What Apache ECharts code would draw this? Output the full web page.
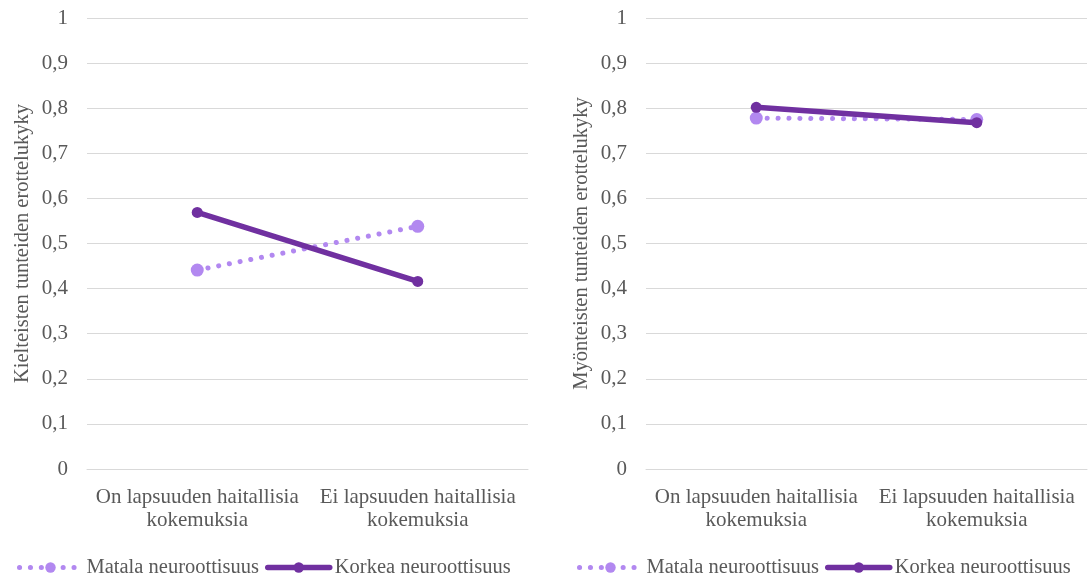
<!DOCTYPE html>
<html><head><meta charset="utf-8">
<script src="https://cdn.jsdelivr.net/npm/echarts@6/dist/echarts.min.js"></script>
<style>html,body{margin:0;padding:0;background:#fff}#c{width:1088px;height:578px}</style>
</head><body><div id="c"></div>
<script>
const categories = ['On lapsuuden haitallisia\nkokemuksia', 'Ei lapsuuden haitallisia\nkokemuksia'];
const seriesNames = ['Matala neuroottisuus', 'Korkea neuroottisuus'];
const leftMatala = [0.441, 0.538];
const leftKorkea = [0.569, 0.416];
const rightMatala = [0.778, 0.775];
const rightKorkea = [0.802, 0.768];
const yTitles = ['Kielteisten tunteiden erottelukyky', 'Myönteisten tunteiden erottelukyky'];

const FONT = '"Liberation Serif", "Times New Roman", serif';
const TXT = '#595959';
const C_LIGHT = '#b288f0';
const C_DARK = '#7030a0';
const DOTS = [0.1, 10.8];

const chart = echarts.init(document.getElementById('c'));
const grids = [{left: 87, right: 560, top: 18, bottom: 109}, {left: 646, right: 1, top: 18, bottom: 109}];
function xAxis(i){return {type:'category', gridIndex:i, data:categories, boundaryGap:true,
  axisLine:{show:true,lineStyle:{color:'#d9d9d9',width:1}}, axisTick:{show:false},
  axisLabel:{color:TXT,fontFamily:FONT,fontSize:21,lineHeight:23,margin:17,interval:0}};}
function yAxis(i){return {type:'value', gridIndex:i, min:0, max:1, interval:0.1,
  name:yTitles[i], nameLocation:'middle', nameGap:54, nameRotate:90,
  nameTextStyle:{color:TXT,fontFamily:FONT,fontSize:20.5},
  axisLine:{show:false}, axisTick:{show:false},
  splitLine:{lineStyle:{color:'#d9d9d9',width:1}},
  axisLabel:{color:TXT,fontFamily:FONT,fontSize:21,margin:19,
    formatter:v=>String(Math.round(v*10)/10).replace('.',',')}};}
function mk(name, data, i, light){
  return {name, type:'line', xAxisIndex:i, yAxisIndex:i, data,
    symbol:'circle', symbolSize: light?13:11,
    itemStyle:{color: light?C_LIGHT:C_DARK},
    lineStyle:{color: light?C_LIGHT:C_DARK, width: light?5:5.5, type: light?DOTS:'solid', cap:'round'},
    z: light?2:3, animation:false};
}
function legend(left){return {left, top:552, itemWidth:62, itemHeight:13, itemGap:6,
  data:[
    {name:seriesNames[0], lineStyle:{color:C_LIGHT,width:5,type:DOTS,cap:'round'}, itemStyle:{color:C_LIGHT}},
    {name:seriesNames[1], lineStyle:{color:C_DARK,width:5.5,type:'solid',cap:'round'}, itemStyle:{color:C_DARK}}
  ],
  textStyle:{color:TXT,fontFamily:FONT,fontSize:20.5}};}
chart.setOption({
  animation:false,
  grid:grids,
  xAxis:[xAxis(0), xAxis(1)],
  yAxis:[yAxis(0), yAxis(1)],
  legend:[legend(12), legend(572)],
  series:[mk(seriesNames[0], leftMatala, 0, true), mk(seriesNames[1], leftKorkea, 0, false),
          mk(seriesNames[0], rightMatala, 1, true), mk(seriesNames[1], rightKorkea, 1, false)]
});
</script></body></html>
